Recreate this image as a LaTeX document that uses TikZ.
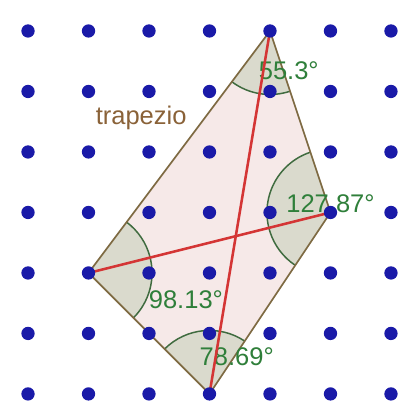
\documentclass[tikz,border=0pt]{standalone}
\usepackage{fontspec}
\setmainfont{Liberation Sans}
\usepackage{xcolor}
\definecolor{dotblue}{HTML}{1A1AA8}
\definecolor{edgebrown}{HTML}{7E6A42}
\definecolor{fillpink}{HTML}{F6E9E8}
\definecolor{diagred}{HTML}{D43535}
\definecolor{anglegreen}{HTML}{3F6B3F}
\definecolor{anglefill}{HTML}{DADACD}
\definecolor{labelgreen}{HTML}{2F7F3A}
\definecolor{textbrown}{HTML}{8A6238}
\usepackage{tikz}
\usetikzlibrary{angles}

\tikzset{
    gridpt/.style={circle, fill=dotblue, inner sep=0pt, minimum size=0.22cm},
    sector/.style={draw=anglegreen, line width=0.7pt, fill=anglefill, angle radius=1.05cm},
    anglelabel/.style={font=\fontsize{12}{14}\selectfont, text=labelgreen, inner sep=0pt},
}

\begin{document}
\begin{tikzpicture}
    \useasboundingbox[fill=white] (-0.463, -0.182) rectangle (6.364, 6.512);
    % vertices
    \coordinate (A) at (4, 6);
    \coordinate (B) at (5, 3);
    \coordinate (C) at (3, 0);
    \coordinate (D) at (1, 2);
    % polygon
    \fill[fillpink] (A) -- (B) -- (C) -- (D) -- cycle;
    % angles
    \pic[sector] {angle = D--A--B};
    \pic[sector] {angle = A--B--C};
    \pic[sector] {angle = B--C--D};
    \pic[sector] {angle = C--D--A};
    \draw[edgebrown, line width=0.8pt] (A) -- (B) -- (C) -- (D) -- cycle;
    % labels
    \node[anglelabel] (la) at (4.31, 5.35) {55.3°};
    \node[anglelabel] (lb) at (5.0, 3.14) {127.87°};
    \node[anglelabel] (lc) at (3.45, 0.62) {78.69°};
    \node[anglelabel] (ld) at (2.61, 1.56) {98.13°};
    \node[font=\fontsize{12}{14}\selectfont, text=textbrown, inner sep=0pt] (name) at (1.87, 4.57) {trapezio};
    % diagonals
    \draw[diagred, line width=1.2pt] (A) -- (C);
    \draw[diagred, line width=1.2pt] (D) -- (B);
    % grid
    \foreach \i in {0,...,6} {
        \foreach \j in {0,...,6} {
            \node[gridpt] (p\i\j) at (\i, \j) {};
        }
    }
\end{tikzpicture}
\end{document}
